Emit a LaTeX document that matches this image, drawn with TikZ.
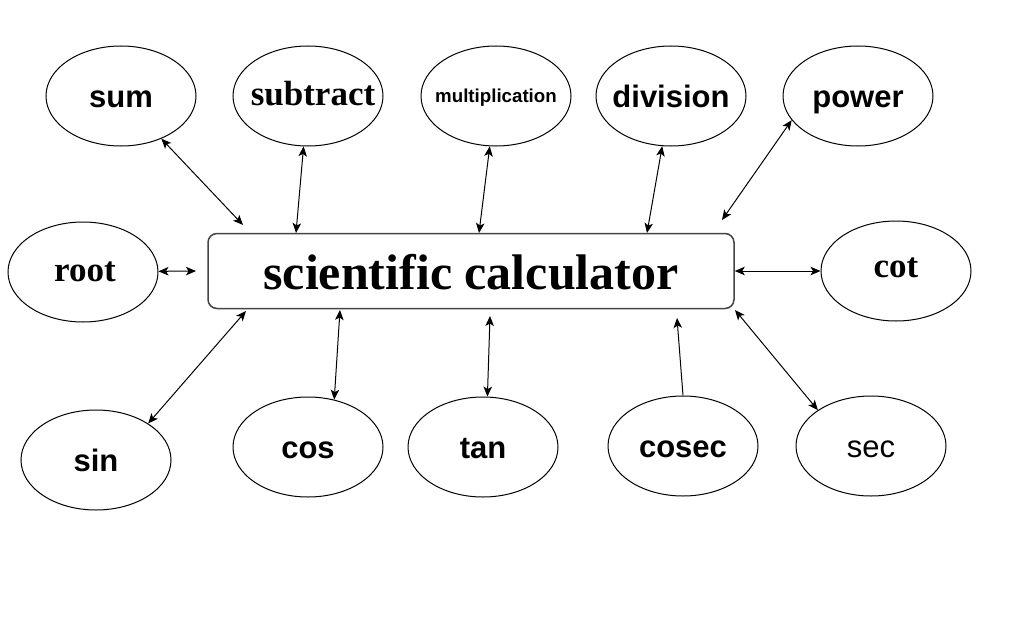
\documentclass[tikz,border=0pt]{standalone}
\usepackage{fontspec}
\setmainfont{Liberation Serif}
\newfontfamily\arialf{Liberation Sans}
\newfontfamily\timesf{Liberation Serif}
\usetikzlibrary{arrows.meta,shapes.geometric}
\definecolor{boxline}{HTML}{444444}
\newcommand{\zw}[1]{\makebox[0pt]{#1}}
\tikzset{
  bub/.style={ellipse, draw=black, line width=1pt, minimum width=150pt, minimum height=100pt, inner sep=0pt, text depth=0pt},
  sansbold/.style={font=\arialf\bfseries\fontsize{31pt}{37pt}\selectfont, text height=22pt},
  sansreg/.style={font=\arialf\fontsize{31pt}{37pt}\selectfont, text height=22pt},
  serifbold/.style={font=\timesf\bfseries\fontsize{35pt}{42pt}\selectfont, text height=18pt},
  smallsans/.style={font=\arialf\bfseries\fontsize{18.7pt}{22pt}\selectfont, text height=12pt},
  mainbox/.style={rectangle, draw=boxline, line width=1.5pt, rounded corners=9pt, minimum width=526pt, minimum height=75pt, inner sep=0pt, font=\timesf\bfseries\fontsize{50pt}{60pt}\selectfont, text height=36pt, text depth=0pt},
  link/.style={draw=black, line width=1pt, {Stealth[length=10pt,width=8.5pt,inset=2.5pt]}-{Stealth[length=10pt,width=8.5pt,inset=2.5pt]}},
  onelink/.style={draw=black, line width=1pt, -{Stealth[length=10pt,width=8.5pt,inset=2.5pt]}}
}
\begin{document}
\begin{tikzpicture}[x=1pt,y=-1pt]
\fill[white] (0,0) rectangle (1009,626);
\useasboundingbox (0,0) rectangle (1009,626);
% main box
\node[mainbox] (box) at (471,271) {scientific calculator};
% top row
\node[bub,sansbold] (sum) at (121,96) {\zw{sum}};
\node[bub,serifbold] (sub) at (308,96) {\zw{\hspace{10pt}subtract}};
\node[bub,smallsans] (mul) at (496,96) {\zw{multiplication}};
\node[bub,sansbold] (div) at (671,96) {\zw{division}};
\node[bub,sansbold] (pow) at (858,96) {\zw{power}};
% middle
\node[bub,serifbold] (root) at (83,272) {\zw{\hspace{4pt}root}};
\node[bub,serifbold,text height=12pt] (cot) at (896,271) {\zw{cot}};
% bottom row
\node[bub,sansbold] (sin) at (96,460) {\zw{sin}};
\node[bub,sansbold] (cos) at (308,447) {\zw{cos}};
\node[bub,sansbold] (tan) at (483,447) {\zw{tan}};
\node[bub,sansbold] (cosec) at (683,446) {\zw{cosec}};
\node[bub,sansreg] (sec) at (871,446) {\zw{sec}};
% free ends near the box
\coordinate (bSum) at (243,225);
\coordinate (bSub) at (296,233);
\coordinate (bMul) at (479,233);
\coordinate (bDiv) at (647,233);
\coordinate (bPow) at (722,220);
\coordinate (bRoot) at (196,271);
\coordinate (bSin) at (246,311);
\coordinate (bCos) at (340,310);
\coordinate (bTan) at (490,316);
\coordinate (bCosec) at (677,318);
\coordinate (bSec) at (735,310);
% connectors
\draw[link] (sum) -- (bSum);
\draw[link] (sub) -- (bSub);
\draw[link] (mul) -- (bMul);
\draw[link] (div) -- (bDiv);
\draw[link] (pow.200) -- (bPow);
\draw[link] (root) -- (bRoot);
\draw[link] (box.east) -- (cot.west);
\draw[link] (sin.35) -- (bSin);
\draw[link] (cos.61) -- (bCos);
\draw[link] (tan.85) -- (bTan);
\draw[onelink] (cosec.north) -- (bCosec);
\draw[link] (sec.146) -- (bSec);
\end{tikzpicture}
\end{document}
